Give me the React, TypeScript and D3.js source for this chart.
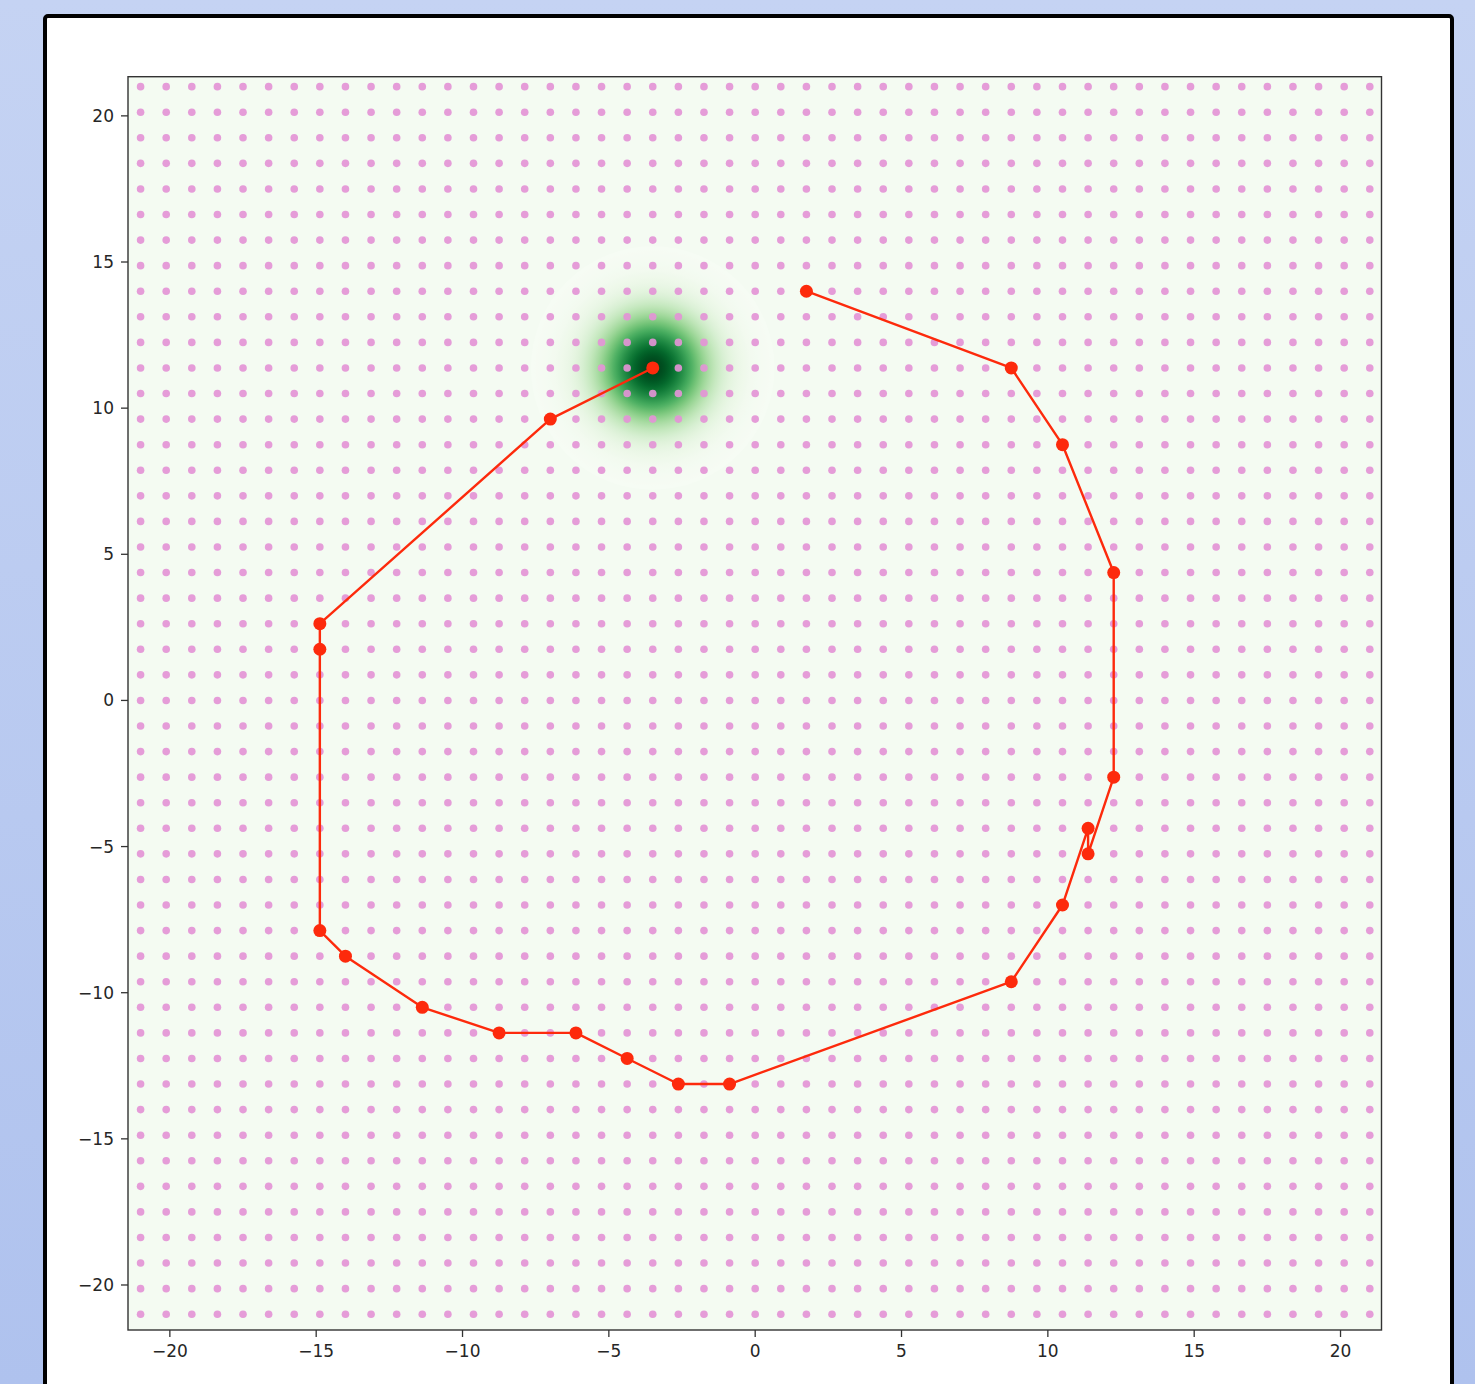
import * as d3 from "d3";

// lattice of sample points (both axes use the same coordinates)
const latticeCoords = [
  -21, -20.125, -19.25, -18.375, -17.5, -16.625, -15.75, -14.875, -14, -13.125, -12.25, -11.375,
  -10.5, -9.625, -8.75, -7.875, -7, -6.125, -5.25, -4.375, -3.5, -2.625, -1.75, -0.875, 0,
  0.875, 1.75, 2.625, 3.5, 4.375, 5.25, 6.125, 7, 7.875, 8.75, 9.625, 10.5, 11.375, 12.25,
  13.125, 14, 14.875, 15.75, 16.625, 17.5, 18.375, 19.25, 20.125, 21,
];

// path of visited points, in order
const pathX = [
  1.75, 8.75, 10.5, 12.25, 12.25, 11.375, 11.375, 10.5, 8.75, -0.875, -2.625, -4.375, -6.125,
  -8.75, -11.375, -14, -14.875, -14.875, -14.875, -7, -3.5,
];
const pathY = [
  14, 11.375, 8.75, 4.375, -2.625, -5.25, -4.375, -7, -9.625, -13.125, -13.125, -12.25, -11.375,
  -11.375, -10.5, -8.75, -7.875, 1.75, 2.625, 9.625, 11.375,
];

// gaussian blob (centre + spread, data units)
const blobCenter = [-3.5, 11.375];
const blobSigma = 1.3;

const xTicks = [-20, -15, -10, -5, 0, 5, 10, 15, 20];
const yTicks = [-20, -15, -10, -5, 0, 5, 10, 15, 20];

const W = 1475;
const H = 1384;
const plot = { left: 128, right: 1381.5, top: 76.7, bottom: 1330 };

const fmt = (v: number) => (v < 0 ? `\u2212${Math.abs(v)}` : `${v}`);

export default function App() {
  const x = d3.scaleLinear().domain([-21.43, 21.4]).range([plot.left, plot.right]);
  const y = d3.scaleLinear().domain([-21.54, 21.34]).range([plot.bottom, plot.top]);

  const pts = pathX.map((v, i) => [v, pathY[i]] as [number, number]);
  const line = d3
    .line<[number, number]>()
    .x((d) => x(d[0]))
    .y((d) => y(d[1]));

  const pxPerUnit = x(1) - x(0);
  const sigmaPx = blobSigma * pxPerUnit;
  const R = sigmaPx * 3.2;
  const stops = d3.range(0, 41).map((i) => {
    const t = i / 40;
    const r = t * R;
    const v = Math.exp(-(r * r) / (2 * sigmaPx * sigmaPx));
    return { offset: t, color: d3.interpolateGreens(v) };
  });

  const tickColor = "#333333";
  const textColor = "#262626";
  const red = "#fd2a0c";

  return (
    <>
      <style>{`body{margin:0;}`}</style>
      <svg width={W} height={H} style={{ display: "block" }} fontFamily="DejaVu Sans, sans-serif">
        <defs>
          <linearGradient id="bg" x1="0" y1="0" x2="0" y2="1">
            <stop offset="0" stopColor="#c5d3f3" />
            <stop offset="1" stopColor="#afc2ee" />
          </linearGradient>
          <radialGradient id="blob" cx="0.5" cy="0.5" r="0.5">
            {stops.map((s, i) => (
              <stop key={i} offset={s.offset} stopColor={s.color} />
            ))}
          </radialGradient>
          <clipPath id="plotClip">
            <rect x={plot.left} y={plot.top} width={plot.right - plot.left} height={plot.bottom - plot.top} />
          </clipPath>
        </defs>

        <rect x={0} y={0} width={W} height={H} fill="url(#bg)" />
        <rect x={45} y={16} width={1407} height={1420} rx={3} fill="#ffffff" stroke="#000000" strokeWidth={4} />

        <g clipPath="url(#plotClip)">
          <rect
            x={plot.left}
            y={plot.top}
            width={plot.right - plot.left}
            height={plot.bottom - plot.top}
            fill={d3.interpolateGreens(0.02)}
          />
          <circle cx={x(blobCenter[0])} cy={y(blobCenter[1])} r={R} fill="url(#blob)" />
          <g fill="#e394d6" fillOpacity={0.92}>
            {latticeCoords.map((gy, j) =>
              latticeCoords.map((gx, i) => <circle key={`${i}-${j}`} cx={x(gx)} cy={y(gy)} r={3.8} />)
            )}
          </g>
          <path d={line(pts) ?? ""} fill="none" stroke={red} strokeWidth={2.4} strokeLinejoin="round" />
          <g fill={red}>
            {pts.map((p, i) => (
              <circle key={i} cx={x(p[0])} cy={y(p[1])} r={6.5} />
            ))}
          </g>
        </g>

        <rect
          x={plot.left}
          y={plot.top}
          width={plot.right - plot.left}
          height={plot.bottom - plot.top}
          fill="none"
          stroke={tickColor}
          strokeWidth={1.4}
        />

        <g>
          {xTicks.map((t) => (
            <g key={t} transform={`translate(${x(t)},${plot.bottom})`}>
              <line y1={0} y2={7} stroke={tickColor} strokeWidth={1.3} />
              <text y={27} textAnchor="middle" fontSize={17} fill={textColor}>
                {fmt(t)}
              </text>
            </g>
          ))}
          {yTicks.map((t) => (
            <g key={t} transform={`translate(${plot.left},${y(t)})`}>
              <line x1={0} x2={-7} stroke={tickColor} strokeWidth={1.3} />
              <text x={-14} dy="0.35em" textAnchor="end" fontSize={17} fill={textColor}>
                {fmt(t)}
              </text>
            </g>
          ))}
        </g>
      </svg>
    </>
  );
}
